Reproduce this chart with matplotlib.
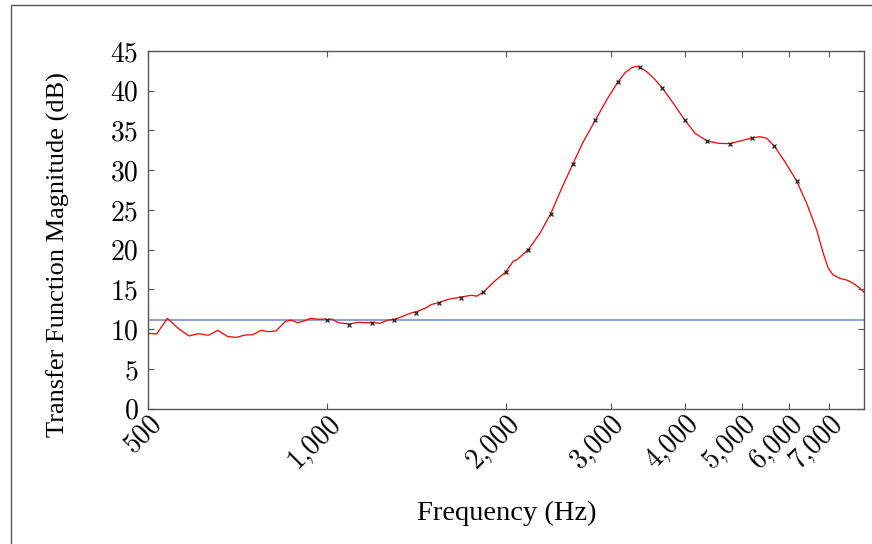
import matplotlib
matplotlib.use("Agg")
import matplotlib.pyplot as plt
from matplotlib.patches import Rectangle
from matplotlib.ticker import FixedLocator, FuncFormatter, NullLocator

# ---- data -------------------------------------------------------------
line_freq = [500, 517, 539, 562, 586, 608, 632, 655, 681, 705, 728, 750, 775,
             797, 821, 850, 869, 893, 915, 939, 967, 993, 1000, 1019, 1045,
             1091, 1129, 1167, 1205, 1228, 1268, 1297, 1336, 1380, 1414, 1462,
             1501, 1542, 1600, 1682, 1752, 1786, 1834, 1918, 2000, 2059, 2086,
             2181, 2282, 2378, 2483, 2594, 2700, 2828, 2955, 3084, 3173, 3257,
             3310, 3364, 3451, 3550, 3668, 3826, 4000, 4162, 4362, 4555, 4757,
             4954, 5187, 5352, 5493, 5657, 5897, 6169, 6414, 6668, 6840, 6974,
             7110, 7297, 7489, 7683, 7885, 8040]
line_db = [9.48, 9.40, 11.37, 10.11, 9.15, 9.44, 9.23, 9.86, 9.06, 8.98, 9.27,
           9.31, 9.86, 9.69, 9.78, 10.94, 11.16, 10.82, 11.03, 11.37, 11.25,
           11.28, 11.20, 11.28, 10.82, 10.65, 10.87, 10.82, 10.82, 10.74, 11.16,
           11.22, 11.57, 12.00, 12.20, 12.63, 13.13, 13.33, 13.76, 14.05, 14.28,
           14.15, 14.68, 16.10, 17.20, 18.58, 18.71, 20.00, 22.06, 24.49, 27.73,
           30.82, 33.59, 36.28, 38.83, 41.06, 42.27, 42.90, 43.05, 42.95, 42.40,
           41.55, 40.34, 38.42, 36.32, 34.65, 33.68, 33.39, 33.34, 33.68, 34.05,
           34.22, 34.02, 33.05, 31.07, 28.65, 25.84, 22.48, 19.55, 17.66, 16.82,
           16.40, 16.19, 15.78, 15.15, 14.52]

marker_freq = [1000, 1091, 1189, 1297, 1414, 1542, 1682, 1834, 2000, 2181,
               2378, 2594, 2828, 3084, 3364, 3668, 4000, 4362, 4757, 5187,
               5657, 6169]
marker_db = [11.16, 10.57, 10.74, 11.16, 12.08, 13.26, 13.97, 14.64, 17.16,
             19.93, 24.49, 30.82, 36.28, 41.06, 42.95, 40.34, 36.32, 33.68,
             33.34, 34.05, 33.05, 28.65]

reference_db = 11.15

x_ticks = [500, 1000, 2000, 3000, 4000, 5000, 6000, 7000]
y_ticks = [0, 5, 10, 15, 20, 25, 30, 35, 40, 45]
x_range = (500, 8000)
y_range = (0, 45)

x_label = "Frequency (Hz)"
y_label = "Transfer Function Magnitude (dB)"

# ---- figure -----------------------------------------------------------
W, H = 872, 544
fig = plt.figure(figsize=(W / 100, H / 100), dpi=100)
ax = fig.add_axes([148 / W, 1 - 408.7 / H, (863.7 - 148) / W, (408.7 - 51) / H])

ax.set_xscale("log")
ax.set_xlim(*x_range)
ax.set_ylim(*y_range)

ax.axhline(reference_db, color="#6f87c2", lw=1.1, zorder=2)
ax.plot(line_freq, line_db, color="#ff0000", lw=0.9, zorder=3)
ax.plot(marker_freq, marker_db, ls="none", marker="x", ms=3.5, mew=0.9,
        color="#222222", zorder=4)

ax.xaxis.set_major_locator(FixedLocator(x_ticks))
ax.xaxis.set_minor_locator(NullLocator())
ax.xaxis.set_major_formatter(FuncFormatter(lambda v, p: f"{int(round(v)):,}"))
ax.yaxis.set_major_locator(FixedLocator(y_ticks))

TS = 20
ax.tick_params(axis="both", which="major", direction="in", length=4,
               width=0.8, color="#555555", top=True, right=True)
ax.tick_params(axis="x", pad=1)
ax.tick_params(axis="y", pad=7)
for lab in ax.get_yticklabels():
    lab.set_fontfamily("cmr10")
    lab.set_fontsize(TS)
for lab in ax.get_xticklabels():
    lab.set_fontfamily("cmr10")
    lab.set_fontsize(TS)
    lab.set_rotation(45)
    lab.set_ha("right")
    lab.set_va("top")
    lab.set_rotation_mode("anchor")

for sp in ax.spines.values():
    sp.set_color("#555555")
    sp.set_linewidth(1.0)

ax.set_xlabel(x_label, family="Liberation Serif", fontsize=20.5)
ax.set_ylabel(y_label, family="Liberation Serif", fontsize=19)
ax.xaxis.set_label_coords((507 - 148) / (863.7 - 148), -(513 - 408.7) / (408.7 - 51))
ax.yaxis.set_label_coords(-(148 - 58) / (863.7 - 148), (408.7 - 255) / (408.7 - 51))
ax.xaxis.label.set_va("center")
ax.yaxis.label.set_va("center")

# outer frame of the figure (partly cropped)
fig.patches.append(Rectangle((11 / W, -0.1), 2.0, 1.1 - 5 / H,
                             transform=fig.transFigure, fill=False,
                             edgecolor="#555555", lw=1.0))

fig.savefig("out.png", dpi=100)
